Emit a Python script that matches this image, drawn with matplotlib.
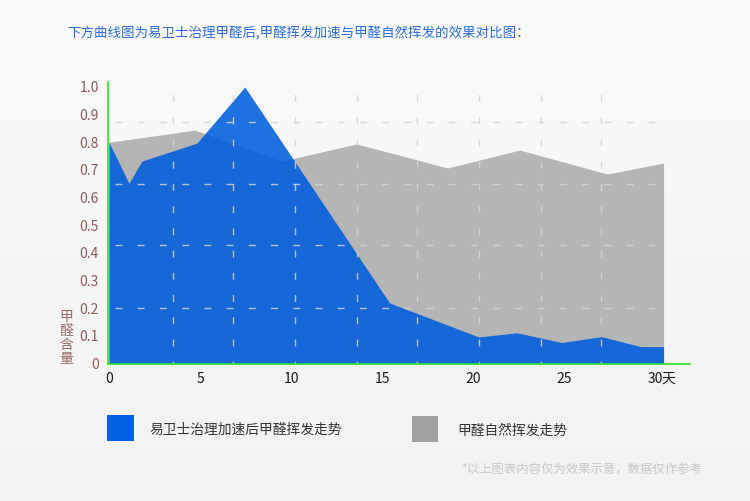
import matplotlib
matplotlib.use('Agg')
import matplotlib.pyplot as plt
import numpy as np
from matplotlib.patches import Rectangle

plt.rcParams['font.family'] = ['Noto Sans CJK SC', 'DejaVu Sans']

# ---- data ----
title = '下方曲线图为易卫士治理甲醛后,甲醛挥发加速与甲醛自然挥发的效果对比图：'
series_names = ['易卫士治理加速后甲醛挥发走势', '甲醛自然挥发走势']
ylabel = '甲醛含量'
footnote = '*以上图表内容仅为效果示意，数据仅作参考'

natural_x = [0, 4.72, 9.49, 13.6, 18.6, 22.55, 27.37, 30.45]
natural_y = [0.80, 0.844, 0.732, 0.794, 0.707, 0.772, 0.685, 0.725]

treated_x = [0, 1.1, 1.81, 4.83, 7.46, 15.41, 20.3, 22.4, 24.85, 27.04, 29.2, 30.45]
treated_y = [0.80, 0.652, 0.732, 0.797, 1.0, 0.219, 0.096, 0.111, 0.076, 0.097, 0.061, 0.061]

x_ticks = [0, 5, 10, 15, 20, 25, 30]
x_ticklabels = ['0', '5', '10', '15', '20', '25', '30']
x_unit = '天'
y_ticks = [0, 0.1, 0.2, 0.3, 0.4, 0.5, 0.6, 0.7, 0.8, 0.9, 1.0]
y_ticklabels = ['0', '0.1', '0.2', '0.3', '0.4', '0.5', '0.6', '0.7', '0.8', '0.9', '1.0']

h_grid = [0.2, 0.43, 0.65, 0.875]
v_grid = [3.5, 6.8, 10.2, 13.6, 16.9, 20.3, 23.7, 27.0]

blue = '#005edd'
gray = '#b5b5b5'
legend_blue = '#0061de'
legend_gray = '#a1a1a1'

W, H = 750, 501
fig = plt.figure(figsize=(W / 100, H / 100), dpi=100)

# background gradient
bg = fig.add_axes([0, 0, 1, 1], zorder=-5)
grad = np.linspace(0.98, 0.95, 256).reshape(-1, 1)
bg.imshow(np.dstack([grad, grad, grad]), aspect='auto', extent=[0, 1, 0, 1])
bg.set_axis_off()

def fx(px):
    return px / W

def fy(py):
    return 1 - py / H

left, right, top, bottom = 108, 690, 82, 363.5
ax = fig.add_axes([fx(left), fy(bottom), (right - left) / W, (bottom - top) / H])
ax.set_facecolor('none')
ax.set_xlim(-0.05, 31.9)
ax.set_ylim(0, 1.018)

ax.fill_between(natural_x, natural_y, 0, color=gray, lw=0, zorder=1)
ax.fill_between(treated_x, treated_y, 0, color=blue, alpha=0.88, lw=0, zorder=2)

# dashed grid
for y in h_grid:
    ax.hlines(y, 0.35, 30.2, colors='#d4d4d4', linewidth=1.0,
              linestyles=(0, (5, 11)), alpha=0.85, zorder=3)
for x in v_grid:
    ax.vlines(x, 0, 0.99, colors='#d4d4d4', linewidth=1.0,
              linestyles=(3, (5, 11)), alpha=0.85, zorder=3)

for s in ['top', 'right']:
    ax.spines[s].set_visible(False)
for s in ['left', 'bottom']:
    ax.spines[s].set_color('#2be02b')
    ax.spines[s].set_linewidth(1.2)
    ax.spines[s].set_zorder(5)

ax.set_yticks(y_ticks, y_ticklabels)
ax.set_xticks(x_ticks, x_ticklabels)
ax.tick_params(axis='y', length=0, pad=6.5, labelsize=10, labelcolor='#8d5a5a')
ax.tick_params(axis='x', length=0, pad=6, labelsize=10, labelcolor='#1a1a1a')
ax.annotate(x_unit, xy=(30, 0), xycoords=('data', 'axes fraction'),
            xytext=(4.5, -6), textcoords='offset points', ha='left', va='top',
            fontsize=10, color='#1a1a1a')

# y label (vertical stacked)
fig.text(fx(66), fy(338), '\n'.join(ylabel), ha='center', va='center',
         fontsize=10, linespacing=1.0, color='#9a6a6a')

# title
fig.text(fx(67), fy(33), title, ha='left', va='center', fontsize=9.7, color='#2a6de0')

# legend
fig.patches.append(Rectangle((fx(107), fy(441)), 27 / W, 26 / H, transform=fig.transFigure,
                             facecolor=legend_blue, edgecolor='none'))
fig.patches.append(Rectangle((fx(412), fy(442)), 26 / W, 26 / H, transform=fig.transFigure,
                             facecolor=legend_gray, edgecolor='none'))
fig.text(fx(149), fy(430), series_names[0], ha='left', va='center', fontsize=9.9, color='#333333')
fig.text(fx(457), fy(431), series_names[1], ha='left', va='center', fontsize=9.9, color='#333333')

# footnote
fig.text(fx(461), fy(470), footnote, ha='left', va='center', fontsize=8.9, color='#c8c8c8')

fig.savefig('out.png', dpi=100)
